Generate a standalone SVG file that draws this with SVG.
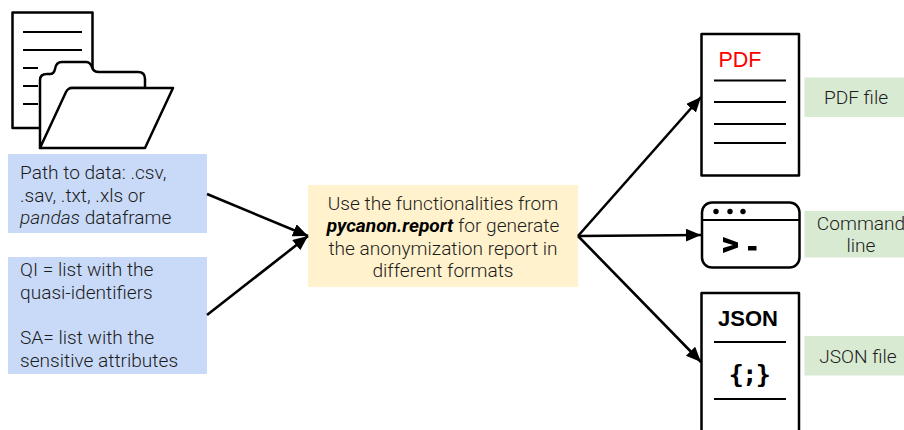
<svg xmlns="http://www.w3.org/2000/svg" width="904" height="430" viewBox="0 0 904 430">
<style>
text{font-family:Roboto,"Liberation Sans",sans-serif;font-weight:300;font-size:19.100px;fill:#1c1c1c}
.m{text-anchor:middle}
.ic{fill:none;stroke:#000;stroke-width:2.5;stroke-linejoin:round}
.ln{fill:none;stroke:#000;stroke-width:2.2}
.cn{fill:none;stroke:#000;stroke-width:2.6;marker-end:url(#ah)}
.icw{fill:#fff;stroke:#000;stroke-width:2.5;stroke-linejoin:round}
</style>
<defs>
<marker id="ah" markerUnits="userSpaceOnUse" markerWidth="16" markerHeight="14" refX="15" refY="6.5" orient="auto"><path d="M0 0L15 6.5L0 13Z" fill="#000"/></marker>
</defs>
<rect width="904" height="430" fill="#fff"/>
<g id="data-icon">
<rect class="ic" x="12.500" y="12.500" width="80" height="115.500"/>
<path class="ln" d="M23 32H82M23 50H82M23 68H38M23 86H38M23 104H38"/>
<path class="icw" d="M40 148V80Q40 74 47 74H50Q54 74 55 69Q56 62 62 62H86Q90 62 92 67Q93 72 99 72H138Q145 72 145 79V88H70L40 148Z"/>
<path class="icw" d="M40 148L66 92Q68 88 72 88H173L145 148Z"/>
</g>
<g id="path-input">
<rect x="8" y="154" width="199" height="79" fill="#c9daf8"/>
<text x="20" y="179">Path to data: .csv,</text>
<text x="20" y="202">.sav, .txt, .xls or</text>
<text x="20" y="224"><tspan font-style="italic">pandas</tspan> dataframe</text>
</g>
<g id="qi-sa-input">
<rect x="8" y="257" width="199" height="117" fill="#c9daf8"/>
<text x="20" y="276">QI = list with the</text>
<text x="20" y="299">quasi-identifiers</text>
<text x="20" y="344">SA= list with the</text>
<text x="20" y="367">sensitive attributes</text>
</g>
<g id="report">
<rect x="308" y="185" width="270" height="102" fill="#fff2cc"/>
<text class="m" x="443" y="210">Use the functionalities from</text>
<text class="m" x="443" y="232"><tspan font-weight="700" font-style="italic" fill="#000">pycanon.report</tspan> for generate</text>
<text class="m" x="443" y="255">the anonymization report in</text>
<text class="m" x="443" y="277">different formats</text>
</g>
<g id="pdf-icon">
<rect class="ic" x="701.500" y="34" width="97.500" height="141.500"/>
<text x="718.500" y="67" style="font-family:'Liberation Sans',sans-serif;font-weight:400;font-size:21.500px;fill:#f00">PDF</text>
<path class="ln" d="M714 80.500H786M714 102H786M714 124H786M714 143H786"/>
</g>
<g id="pdf-label">
<rect x="804.500" y="77.500" width="99.500" height="39.500" fill="#d9ead3"/>
<text class="m" x="856" y="104">PDF file</text>
</g>
<g id="cmd-icon">
<rect class="ic" x="702" y="202.500" width="97.500" height="65" rx="10"/>
<path class="ln" d="M702 220H799"/>
<circle cx="716" cy="211.500" r="2.700"/><circle cx="730" cy="211.500" r="2.700"/><circle cx="743" cy="211.500" r="2.700"/>
<path d="M723 237L738 242.500V247.500L723 253V248L733 245L723 242Z"/>
<rect x="748" y="246" width="8.500" height="4.500"/>
</g>
<g id="cmd-label">
<rect x="804.500" y="211" width="99.500" height="46.500" fill="#d9ead3"/>
<text class="m" x="861" y="230">Command</text>
<text class="m" x="861" y="252">line</text>
</g>
<g id="json-icon">
<path class="ic" d="M701.500 432V293H799V432"/>
<text class="m" x="748" y="326" style="font-family:'Liberation Sans',sans-serif;font-weight:700;font-size:22px;fill:#000">JSON</text>
<path class="ln" d="M714 342H786M714 399H786"/>
<text class="m" x="749" y="382.500" style="font-family:'DejaVu Sans Mono',monospace;font-weight:700;font-size:25px;fill:#000;letter-spacing:-1.500px">{;}</text>
</g>
<g id="json-label">
<rect x="804.500" y="336" width="99.500" height="39.500" fill="#d9ead3"/>
<text class="m" x="858" y="363">JSON file</text>
</g>
<g id="connectors">
<path class="cn" d="M207 194L308 236"/>
<path class="cn" d="M207 315L308 236"/>
<path class="cn" d="M578 236L701 97"/>
<path class="cn" d="M578 236L701 235"/>
<path class="cn" d="M578 236L701 362"/>
</g>
</svg>
